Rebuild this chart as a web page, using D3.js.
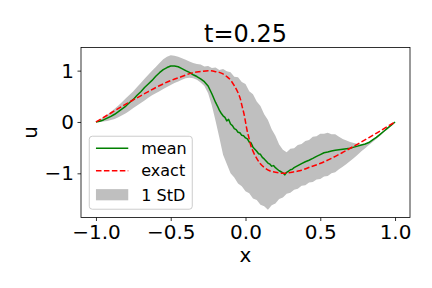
<!DOCTYPE html>
<html>
<head>
<meta charset="utf-8">
<script src="https://cdn.jsdelivr.net/npm/d3@7"></script>
<style>
  html, body { margin: 0; padding: 0; background: #fff; }
  svg { display: block; font-family: "DejaVu Sans", sans-serif; }
</style>
</head>
<body>
<svg id="chart" width="432" height="288"></svg>
<script>
// exact solution (red dashed)
const exactX = [-1, -0.9, -0.823, -0.75, -0.653, -0.58, -0.498, -0.43, -0.362, -0.3, -0.25,
  -0.2, -0.162, -0.125, -0.098, -0.075, -0.053, -0.035, -0.023, -0.01, 0,
  0.01, 0.023, 0.035, 0.053, 0.075, 0.098, 0.125, 0.162, 0.2, 0.25,
  0.3, 0.362, 0.43, 0.498, 0.58, 0.653, 0.75, 0.823, 0.9, 1];
const exactU = [0, 0.175, 0.309, 0.43, 0.588, 0.70, 0.809, 0.88, 0.951, 0.982, 1.0,
  0.98, 0.951, 0.885, 0.809, 0.707, 0.588, 0.454, 0.309, 0.156, 0,
  -0.156, -0.309, -0.454, -0.588, -0.707, -0.809, -0.885, -0.951, -0.98, -1.0,
  -0.982, -0.951, -0.88, -0.809, -0.70, -0.588, -0.43, -0.309, -0.175, 0];

// mean of the samples (green)
const meanX = [-1, -0.975, -0.95, -0.925, -0.9, -0.875, -0.85, -0.825, -0.8, -0.775,
  -0.75, -0.725, -0.7, -0.675, -0.65, -0.625, -0.6, -0.575, -0.55, -0.525,
  -0.5, -0.475, -0.45, -0.425, -0.4, -0.375, -0.35, -0.325, -0.3, -0.275,
  -0.25, -0.225, -0.2, -0.1875, -0.175, -0.1625, -0.15, -0.1375, -0.125, -0.1125,
  -0.1, -0.0875, -0.075, -0.0625, -0.05, -0.0375, -0.025, -0.0125, 0, 0.0125,
  0.025, 0.0375, 0.05, 0.0625, 0.075, 0.0875, 0.1, 0.1125, 0.125, 0.1375,
  0.15, 0.1625, 0.175, 0.1875, 0.2, 0.2125, 0.225, 0.2375, 0.25, 0.2625,
  0.275, 0.2875, 0.3, 0.3125, 0.325, 0.3375, 0.35, 0.375, 0.4, 0.425,
  0.45, 0.475, 0.5, 0.525, 0.55, 0.575, 0.6, 0.625, 0.65, 0.675,
  0.7, 0.725, 0.75, 0.775, 0.8, 0.825, 0.85, 0.875, 0.9, 0.925,
  0.95, 0.975, 1];
const meanU = [0, 0.015, 0.04, 0.075, 0.11, 0.15, 0.2, 0.255, 0.31, 0.38,
  0.44, 0.52, 0.59, 0.67, 0.74, 0.81, 0.89, 0.96, 1.02, 1.06,
  1.09, 1.09, 1.075, 1.04, 1.0, 0.965, 0.92, 0.885, 0.84, 0.785,
  0.7, 0.55, 0.38, 0.31, 0.23, 0.17, 0.12, 0.09, 0.02, 0.05,
  -0.04, -0.07, -0.13, -0.15, -0.2, -0.21, -0.26, -0.27, -0.31, -0.33,
  -0.39, -0.41, -0.49, -0.53, -0.57, -0.62, -0.63, -0.69, -0.72, -0.76,
  -0.8, -0.82, -0.86, -0.85, -0.89, -0.92, -0.95, -0.97, -0.99, -1.03,
  -0.98, -0.96, -0.93, -0.92, -0.89, -0.87, -0.85, -0.81, -0.775, -0.745,
  -0.71, -0.67, -0.635, -0.6, -0.585, -0.565, -0.55, -0.54, -0.53, -0.52,
  -0.51, -0.49, -0.47, -0.45, -0.43, -0.4, -0.35, -0.3, -0.24, -0.18,
  -0.12, -0.06, 0];

// 1 StD band, sampled every 0.025 from -1 to 1
const bandX = d3.range(81).map(i => -1 + i * 0.025);
const bandUpper = [0, 0.04, 0.09, 0.14, 0.2, 0.26, 0.32, 0.39, 0.46, 0.53,
  0.6, 0.68, 0.76, 0.84, 0.92, 1.0, 1.07, 1.15, 1.22, 1.27,
  1.3, 1.29, 1.27, 1.24, 1.21, 1.18, 1.15, 1.13, 1.12, 1.08,
  1.09, 1.05, 1.06, 1.01, 1.03, 0.99, 0.97, 0.88, 0.87, 0.78,
  0.74, 0.6, 0.54, 0.4, 0.31, 0.15, 0.04, -0.14, -0.27, -0.44,
  -0.54, -0.59, -0.52, -0.51, -0.45, -0.43, -0.37, -0.35, -0.29, -0.28,
  -0.23, -0.23, -0.21, -0.24, -0.24, -0.29, -0.33, -0.36, -0.39, -0.41,
  -0.43, -0.44, -0.43, -0.39, -0.34, -0.29, -0.23, -0.17, -0.11, -0.055, 0];
const bandLower = [0, 0, 0.01, 0.02, 0.04, 0.06, 0.09, 0.13, 0.17, 0.22,
  0.27, 0.32, 0.37, 0.42, 0.47, 0.52, 0.56, 0.6, 0.64, 0.68,
  0.72, 0.76, 0.79, 0.82, 0.85, 0.86, 0.85, 0.82, 0.77, 0.7,
  0.56, 0.32, 0.02, -0.3, -0.64, -0.82, -1.0, -1.08, -1.2, -1.25,
  -1.35, -1.39, -1.49, -1.52, -1.61, -1.64, -1.71, -1.62, -1.59, -1.5,
  -1.47, -1.4, -1.38, -1.32, -1.3, -1.24, -1.23, -1.18, -1.17, -1.12,
  -1.11, -1.06, -1.05, -1.0, -0.98, -0.92, -0.87, -0.82, -0.76, -0.7,
  -0.64, -0.57, -0.51, -0.45, -0.39, -0.33, -0.27, -0.2, -0.14, -0.07, 0];

const xTicks = [-1, -0.5, 0, 0.5, 1];
const yTicks = [-1, 0, 1];
const legendLabels = ['mean', 'exact', '1 StD'];

const svg = d3.select('#chart');
const margin = { top: 47.5, right: 22, bottom: 70.5, left: 81 };
const width = +svg.attr('width');
const height = +svg.attr('height');
const innerWidth = width - margin.left - margin.right;
const innerHeight = height - margin.top - margin.bottom;

const g = svg.append('g')
  .attr('transform', `translate(${margin.left}, ${margin.top})`);

// matplotlib style 5% padding
const xMin = d3.min(meanX), xMax = d3.max(meanX);
const yMin = d3.min(bandLower), yMax = d3.max(bandUpper);
const xPad = (xMax - xMin) * 0.05, yPad = (yMax - yMin) * 0.05;

const xScale = d3.scaleLinear()
  .domain([xMin - xPad, xMax + xPad])
  .range([0, innerWidth]);
const yScale = d3.scaleLinear()
  .domain([yMin - yPad, yMax + yPad])
  .range([innerHeight, 0]);

const fmtX = d => d3.format('.1f')(d).replace('-', '\u2212');
const fmtY = d => d3.format('d')(d).replace('-', '\u2212');

// band
const band = bandX.map((x, i) => ({ x, lo: bandLower[i], hi: bandUpper[i] }));
const area = d3.area()
  .x(d => xScale(d.x))
  .y0(d => yScale(d.lo))
  .y1(d => yScale(d.hi));
g.append('path')
  .attr('d', area(band))
  .attr('fill', '#bfbfbf');

const line = d3.line()
  .x(d => xScale(d[0]))
  .y(d => yScale(d[1]));

g.append('path')
  .attr('d', line(meanX.map((x, i) => [x, meanU[i]])))
  .attr('fill', 'none')
  .attr('stroke', '#008000')
  .attr('stroke-width', 1.5)
  .attr('stroke-linejoin', 'round');

g.append('path')
  .attr('d', line.curve(d3.curveMonotoneX)(exactX.map((x, i) => [x, exactU[i]])))
  .attr('fill', 'none')
  .attr('stroke', '#ff0000')
  .attr('stroke-width', 1.5)
  .attr('stroke-dasharray', '5.55,2.4');

// axes
const axisStyle = AxisG => {
  AxisG.attr('font-size', 20).attr('font-family', '"DejaVu Sans", sans-serif');
  AxisG.select('.domain').remove();
  AxisG.selectAll('line').attr('stroke', '#000').attr('stroke-width', 0.8);
  AxisG.selectAll('text')
    .attr('font-size', 20)
    .attr('fill', '#000');
};

g.append('g')
  .attr('transform', `translate(0, ${innerHeight})`)
  .call(d3.axisBottom(xScale).tickValues(xTicks).tickFormat(fmtX)
    .tickSize(3.5).tickPadding(3.5))
  .call(axisStyle);

g.append('g')
  .call(d3.axisLeft(yScale).tickValues(yTicks).tickFormat(fmtY)
    .tickSize(3.5).tickPadding(3.5))
  .call(axisStyle);

g.append('rect')
  .attr('width', innerWidth)
  .attr('height', innerHeight)
  .attr('fill', 'none')
  .attr('stroke', '#000')
  .attr('stroke-width', 0.8);

// labels
svg.append('text')
  .attr('x', margin.left + innerWidth / 2)
  .attr('y', 41.5)
  .attr('text-anchor', 'middle')
  .attr('font-size', 24)
  .text('t=0.25');

svg.append('text')
  .attr('x', margin.left + innerWidth / 2)
  .attr('y', 261.5)
  .attr('text-anchor', 'middle')
  .attr('font-size', 20)
  .text('x');

svg.append('text')
  .attr('transform', `translate(36.7, ${margin.top + innerHeight / 2}) rotate(-90)`)
  .attr('text-anchor', 'middle')
  .attr('font-size', 20)
  .text('u');

// legend
const legend = g.append('g')
  .attr('transform', `translate(${xScale(-1) - 6.7}, ${yScale(1) + 65.6})`);
legend.append('rect')
  .attr('width', 103)
  .attr('height', 73)
  .attr('rx', 3)
  .attr('fill', '#fff')
  .attr('fill-opacity', 0.8)
  .attr('stroke', '#cccccc')
  .attr('stroke-width', 1);

const rowY = [12, 34.4, 58.5];
legend.append('line')
  .attr('x1', 6.7).attr('x2', 39).attr('y1', rowY[0]).attr('y2', rowY[0])
  .attr('stroke', '#008000').attr('stroke-width', 1.5);
legend.append('line')
  .attr('x1', 6.7).attr('x2', 39).attr('y1', rowY[1]).attr('y2', rowY[1])
  .attr('stroke', '#ff0000').attr('stroke-width', 1.5)
  .attr('stroke-dasharray', '5.55,2.4');
legend.append('rect')
  .attr('x', 6.7).attr('y', rowY[2] - 5.6)
  .attr('width', 32.3).attr('height', 11.2)
  .attr('fill', '#bfbfbf');

legend.selectAll('.legend-label').data(legendLabels)
  .enter().append('text')
    .attr('class', 'legend-label')
    .attr('x', 52)
    .attr('y', (d, i) => rowY[i] + 5.8)
    .attr('font-size', 16)
    .text(d => d);
</script>
</body>
</html>
